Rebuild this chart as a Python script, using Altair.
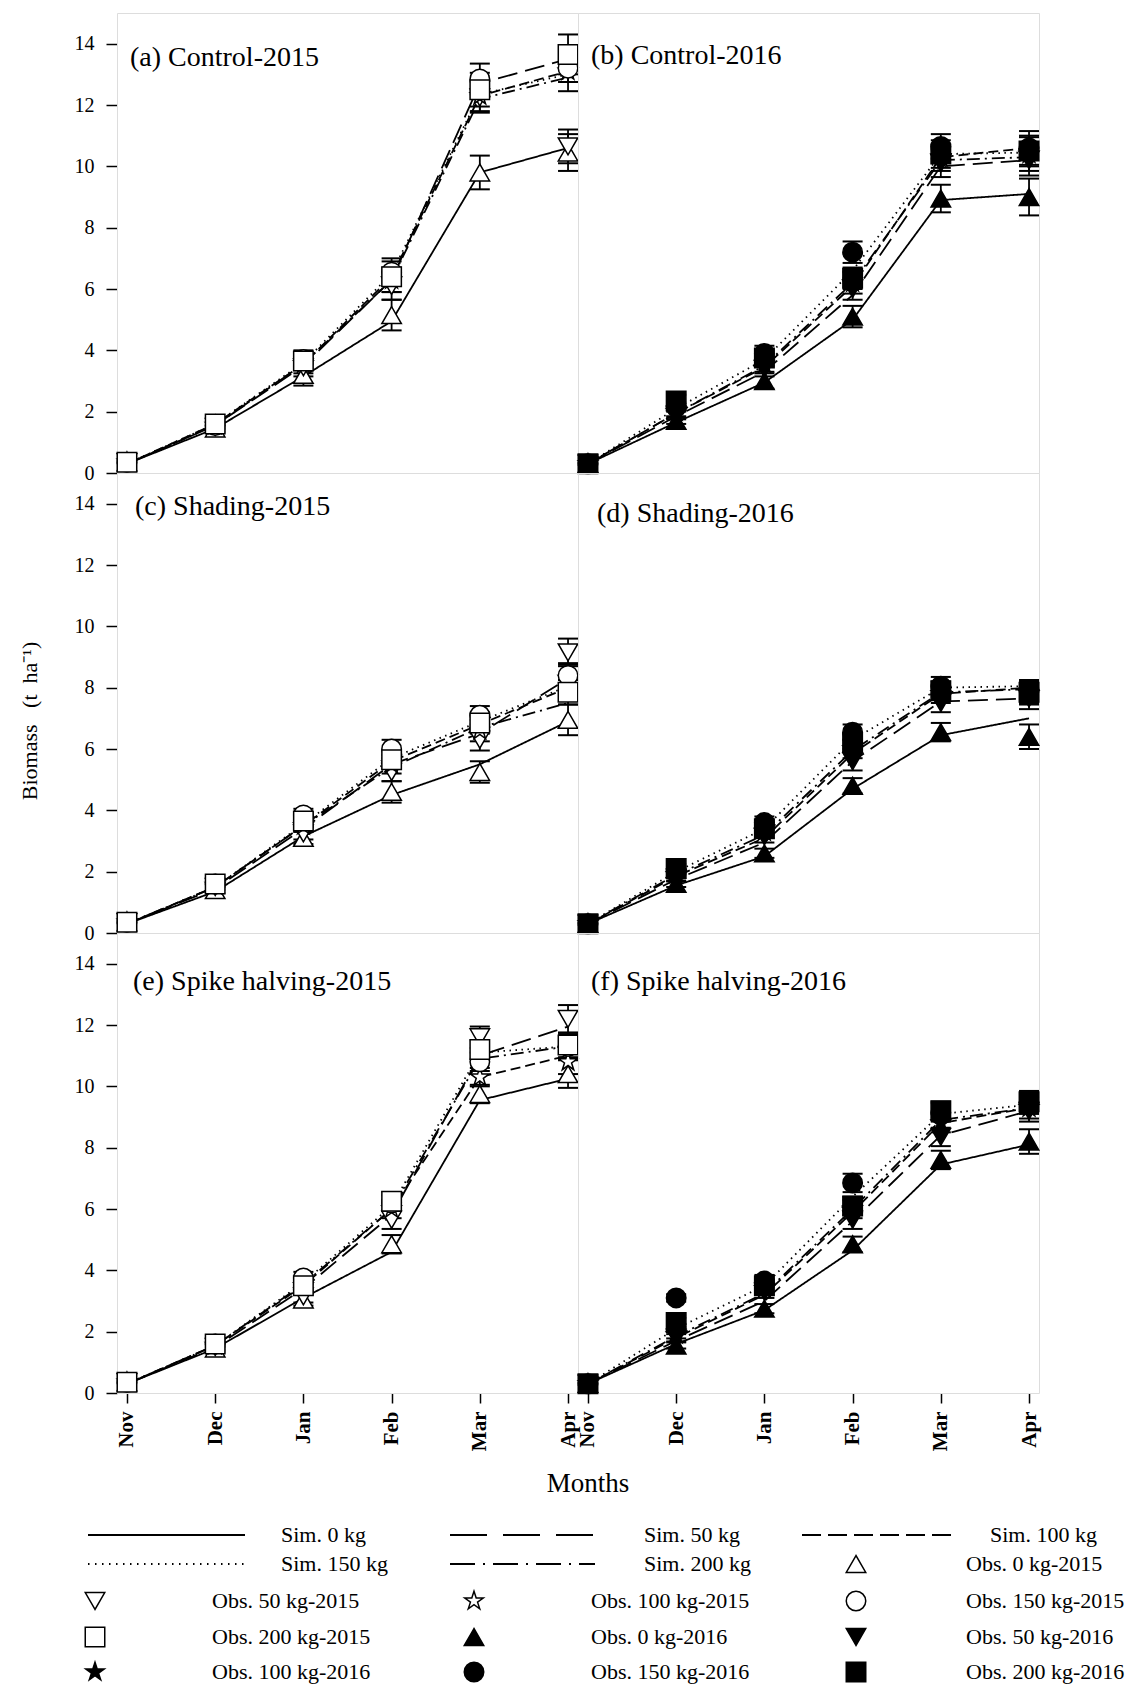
import altair as alt
import pandas as pd

MONTHS = ["Nov", "Dec", "Jan", "Feb", "Mar", "Apr"]
RATES = ["0", "50", "100", "150", "200"]
TREATMENTS = ["Control", "Shading", "Spike halving"]
YEARS = ["2015", "2016"]
TAGS = ["a", "b", "c", "d", "e", "f"]

# Simulated biomass (t ha-1); one list per N rate (0, 50, 100, 150, 200 kg), months Nov..Apr
SIM_A = [[0.30, 1.45, 3.15, 4.95, 9.80, 10.60],
         [0.30, 1.55, 3.50, 6.30, 12.70, 13.50],
         [0.30, 1.60, 3.55, 6.40, 12.30, 13.10],
         [0.30, 1.60, 3.60, 6.50, 12.35, 13.00],
         [0.30, 1.55, 3.55, 6.30, 12.20, 12.90]]
OBS_A = [[0.35, 1.45, 3.20, 5.15, 9.80, 10.45],
         [0.35, 1.50, 3.45, 6.10, 12.25, 10.65],
         [0.35, 1.55, 3.55, 6.30, 12.30, 13.10],
         [0.35, 1.55, 3.70, 6.55, 12.85, 13.20],
         [0.35, 1.60, 3.65, 6.40, 12.50, 13.65]]
ERR_A = [[0.05, 0.12, 0.35, 0.50, 0.55, 0.60],
         [0.05, 0.12, 0.30, 0.45, 0.50, 0.55],
         [0.05, 0.12, 0.30, 0.40, 0.50, 0.65],
         [0.05, 0.12, 0.30, 0.45, 0.50, 0.45],
         [0.05, 0.12, 0.30, 0.50, 0.55, 0.65]]

SIM_B = [[0.30, 1.65, 2.95, 5.00, 8.90, 9.10],
         [0.30, 1.85, 3.30, 5.80, 10.00, 10.20],
         [0.30, 1.95, 3.45, 6.10, 10.30, 10.60],
         [0.30, 2.10, 3.70, 6.60, 10.40, 10.45],
         [0.30, 1.95, 3.50, 6.20, 10.20, 10.30]]
OBS_B = [[0.30, 1.70, 3.00, 5.10, 8.95, 9.00],
         [0.30, 1.90, 3.40, 6.00, 10.10, 10.20],
         [0.30, 2.00, 3.55, 6.20, 10.30, 10.40],
         [0.30, 2.15, 3.90, 7.20, 10.65, 10.60],
         [0.30, 2.35, 3.75, 6.35, 10.40, 10.50]]
ERR_B = [[0.05, 0.10, 0.25, 0.35, 0.45, 0.60],
         [0.05, 0.15, 0.25, 0.35, 0.45, 0.50],
         [0.05, 0.15, 0.25, 0.35, 0.45, 0.55],
         [0.05, 0.15, 0.25, 0.35, 0.40, 0.55],
         [0.05, 0.20, 0.25, 0.35, 0.45, 0.50]]

SIM_C = [[0.30, 1.35, 3.15, 4.50, 5.50, 6.90],
         [0.30, 1.45, 3.40, 5.50, 6.50, 8.30],
         [0.30, 1.50, 3.50, 5.60, 6.80, 8.00],
         [0.30, 1.50, 3.55, 5.70, 6.90, 8.05],
         [0.30, 1.50, 3.50, 5.40, 6.70, 7.50]]
OBS_C = [[0.35, 1.40, 3.10, 4.60, 5.25, 6.95],
         [0.35, 1.50, 3.25, 5.25, 6.30, 9.15],
         [0.35, 1.55, 3.50, 5.50, 6.60, 8.30],
         [0.35, 1.60, 3.85, 6.00, 7.10, 8.40],
         [0.35, 1.60, 3.65, 5.65, 6.85, 7.85]]
ERR_C = [[0.05, 0.10, 0.20, 0.35, 0.35, 0.50],
         [0.05, 0.10, 0.20, 0.30, 0.35, 0.45],
         [0.05, 0.10, 0.20, 0.30, 0.35, 0.45],
         [0.05, 0.10, 0.20, 0.30, 0.30, 0.40],
         [0.05, 0.10, 0.20, 0.30, 0.35, 0.40]]

SIM_D = [[0.30, 1.55, 2.50, 4.70, 6.45, 7.00],
         [0.30, 1.75, 2.95, 5.60, 7.55, 7.65],
         [0.30, 1.85, 3.10, 5.85, 7.80, 8.00],
         [0.30, 2.00, 3.40, 6.30, 8.00, 8.05],
         [0.30, 1.90, 3.20, 5.95, 7.85, 7.95]]
OBS_D = [[0.30, 1.60, 2.60, 4.80, 6.55, 6.40],
         [0.30, 1.80, 3.15, 5.60, 7.50, 7.65],
         [0.30, 1.90, 3.30, 6.00, 7.80, 7.80],
         [0.30, 2.00, 3.60, 6.55, 8.05, 7.90],
         [0.30, 2.10, 3.40, 6.20, 7.90, 7.85]]
ERR_D = [[0.05, 0.10, 0.15, 0.25, 0.30, 0.40],
         [0.05, 0.12, 0.20, 0.30, 0.30, 0.35],
         [0.05, 0.12, 0.20, 0.30, 0.30, 0.35],
         [0.05, 0.12, 0.20, 0.25, 0.30, 0.35],
         [0.05, 0.15, 0.20, 0.30, 0.30, 0.35]]

SIM_E = [[0.30, 1.45, 3.10, 4.60, 9.55, 10.25],
         [0.30, 1.50, 3.40, 5.80, 11.00, 11.95],
         [0.30, 1.55, 3.50, 6.00, 10.30, 11.00],
         [0.30, 1.55, 3.60, 6.10, 11.10, 11.30],
         [0.30, 1.55, 3.55, 6.00, 10.90, 11.30]]
OBS_E = [[0.35, 1.45, 3.05, 4.85, 9.75, 10.40],
         [0.35, 1.50, 3.15, 5.65, 11.60, 12.20],
         [0.35, 1.55, 3.50, 6.00, 10.30, 10.80],
         [0.35, 1.60, 3.75, 6.20, 10.80, 11.30],
         [0.35, 1.60, 3.50, 6.25, 11.20, 11.35]]
ERR_E = [[0.05, 0.10, 0.20, 0.30, 0.30, 0.45],
         [0.05, 0.10, 0.20, 0.30, 0.35, 0.45],
         [0.05, 0.10, 0.20, 0.30, 0.30, 0.40],
         [0.05, 0.10, 0.20, 0.25, 0.30, 0.40],
         [0.05, 0.10, 0.20, 0.30, 0.30, 0.40]]

SIM_F = [[0.30, 1.60, 2.70, 4.65, 7.45, 8.10],
         [0.30, 1.70, 3.00, 5.60, 8.40, 9.20],
         [0.30, 1.80, 3.20, 5.90, 8.80, 9.30],
         [0.30, 2.10, 3.50, 6.40, 9.10, 9.40],
         [0.30, 1.85, 3.25, 6.00, 8.90, 9.30]]
OBS_F = [[0.30, 1.55, 2.75, 4.85, 7.60, 8.20],
         [0.30, 1.80, 3.30, 5.65, 8.35, 9.20],
         [0.30, 1.90, 3.40, 6.00, 8.80, 9.30],
         [0.30, 3.10, 3.65, 6.85, 9.15, 9.45],
         [0.30, 2.30, 3.50, 6.10, 9.20, 9.50]]
ERR_F = [[0.05, 0.10, 0.15, 0.25, 0.30, 0.40],
         [0.05, 0.12, 0.20, 0.30, 0.30, 0.35],
         [0.05, 0.12, 0.20, 0.30, 0.30, 0.35],
         [0.05, 0.12, 0.20, 0.30, 0.30, 0.35],
         [0.05, 0.15, 0.20, 0.30, 0.30, 0.35]]

PANEL_DATA = [(SIM_A, OBS_A, ERR_A), (SIM_B, OBS_B, ERR_B),
              (SIM_C, OBS_C, ERR_C), (SIM_D, OBS_D, ERR_D),
              (SIM_E, OBS_E, ERR_E), (SIM_F, OBS_F, ERR_F)]

# ---------------- styling / layout ----------------
FONT = "Liberation Serif"
DASH_PANEL = [[1, 0], [20, 8], [10, 5], [1.5, 4.5], [13, 5, 2, 5]]
DASH_LEGEND = [[1, 0], [37, 16], [19, 7], [1.5, 5.5], [25, 8, 2, 8]]
STAR = ("M0,-1L0.2245,-0.309L0.951,-0.309L0.363,0.118L0.588,0.809L0,0.382"
        "L-0.588,0.809L-0.363,0.118L-0.951,-0.309L-0.2245,-0.309Z")
SHAPES = ["triangle-up", "triangle-down", STAR, "circle", "square"]
SYMS = [f"{r}-{y}" for y in YEARS for r in RATES]
SYM_SHAPES = SHAPES * len(YEARS)
FILLS = ["white", "black"]
LABEL_POS = {"a": (13, 53), "b": (13, 51), "c": (18, 42),
             "d": (19, 49), "e": (16, 57), "f": (13, 57)}
PW, PH = 461, 460
BLANK = "\u2800"

# ---------------- data table ----------------
records = []
k = 0
for t in TREATMENTS:
    for yr in YEARS:
        sim, obs, err = PANEL_DATA[k]
        tag = TAGS[k]
        for ri, r in enumerate(RATES):
            for mi in range(len(MONTHS)):
                records.append(dict(treat=t, year=yr, tag=tag, kind="sim", rate=r,
                                    sym=f"{r}-{yr}", m=mi, v=sim[ri][mi],
                                    lo=None, hi=None, label=""))
            for mi in range(len(MONTHS)):
                o, e = obs[ri][mi], err[ri][mi]
                records.append(dict(treat=t, year=yr, tag=tag, kind="obs", rate=r,
                                    sym=f"{r}-{yr}", m=mi, v=o, lo=o - e, hi=o + e,
                                    label=""))
        records.append(dict(treat=t, year=yr, tag=tag, kind="label", rate="",
                            sym="", m=None, v=None, lo=None, hi=None,
                            label=f"({tag}) {t}-{yr}"))
        k += 1
df = pd.DataFrame(records)

xs = alt.Scale(domain=[-0.113, 5.113], nice=False, zero=False)
ys = alt.Scale(domain=[0, 15], nice=False, zero=False)
label_expr = "[" + ",".join(f"'{m}'" for m in MONTHS) + "][datum.value]"

x_axis = alt.Axis(values=list(range(len(MONTHS))), labelExpr=label_expr,
                  labelAngle=270, labelFont=FONT, labelFontSize=21,
                  labelFontWeight="bold", labelColor="black", labelPadding=8,
                  tickSize=10, tickWidth=1.5, tickColor="black",
                  domain=False, grid=False, title=None)
y_axis = alt.Axis(values=list(range(0, 15, 2)), labelFont=FONT, labelFontSize=20,
                  labelColor="black", labelPadding=12, tickSize=11,
                  tickWidth=1.5, tickColor="black", domain=False, grid=False,
                  title=None)

X = alt.X("m:Q", scale=xs, axis=x_axis, title=None)
Y = alt.Y("v:Q", scale=ys, axis=y_axis, title=None)

lines = alt.Chart().transform_filter("datum.kind == 'sim'").mark_line(
    color="black", strokeWidth=1.8).encode(
    x=X, y=Y,
    strokeDash=alt.StrokeDash("rate:N", scale=alt.Scale(domain=RATES, range=DASH_PANEL),
                              legend=None),
    detail="rate:N")

err_rule = alt.Chart().transform_filter("datum.kind == 'obs'").mark_rule(
    color="black", strokeWidth=1.8).encode(
    x=alt.X("m:Q", scale=xs, title=None),
    y=alt.Y("lo:Q", scale=ys, title=None), y2="hi:Q")

cap_lo = alt.Chart().transform_filter("datum.kind == 'obs'").mark_tick(
    color="black", orient="horizontal", size=20, thickness=2, opacity=1).encode(
    x=alt.X("m:Q", scale=xs, title=None), y=alt.Y("lo:Q", scale=ys, title=None))
cap_hi = alt.Chart().transform_filter("datum.kind == 'obs'").mark_tick(
    color="black", orient="horizontal", size=20, thickness=2, opacity=1).encode(
    x=alt.X("m:Q", scale=xs, title=None), y=alt.Y("hi:Q", scale=ys, title=None))

shape_enc = alt.Shape("sym:N", scale=alt.Scale(domain=SYMS, range=SYM_SHAPES), legend=None)
fill_enc = alt.Fill("year:N", scale=alt.Scale(domain=YEARS, range=FILLS), legend=None)

pts = alt.Chart().transform_filter("datum.kind == 'obs'").mark_point(
    filled=True, size=380, stroke="black", strokeWidth=1.5, opacity=1).encode(
    x=alt.X("m:Q", scale=xs, title=None), y=alt.Y("v:Q", scale=ys, title=None),
    shape=shape_enc, fill=fill_enc)

label_layers = []
for tag in TAGS:
    lx, ly = LABEL_POS[tag]
    label_layers.append(
        alt.Chart().transform_filter(f"datum.kind == 'label' && datum.tag == '{tag}'")
        .mark_text(align="left", baseline="alphabetic", font=FONT, fontSize=28,
                   color="black")
        .encode(x=alt.value(lx), y=alt.value(ly), text="label:N"))

panel = alt.layer(lines, err_rule, cap_lo, cap_hi, pts, *label_layers).properties(
    width=PW, height=PH)

hdr_common = dict(labels=False, titleFont=FONT, titleFontWeight="normal",
                  titleColor="black")
grid = panel.facet(
    data=df,
    row=alt.Row("treat:N", sort=TREATMENTS,
                title="Biomass\u00a0\u00a0\u00a0(t\u00a0\u00a0ha\u207b\u00b9)" + BLANK * 2,
                header=alt.Header(titleOrient="left", titlePadding=22,
                                  titleFontSize=22, **hdr_common)),
    column=alt.Column("year:N", sort=YEARS,
                      title=BLANK + "Months",
                      header=alt.Header(titleOrient="bottom", titlePadding=10,
                                        titleFontSize=27, **hdr_common)),
    spacing=0,
    bounds="flush",
)

# ---------------- legend (drawn as a small chart) ----------------
PLOT_LEFT = 117      # page x of the panels' left edge (legend origin)
LEG_TOP = 1500       # page y of the legend's top
ROW_Y = [1535, 1564, 1601, 1637, 1672]
SIM_LINE_X = [(88, 245), (450, 595), (802, 952)]
SIM_TEXT_X = [281, 644, 990]
OBS_SYM_X = [95, 474, 856]
OBS_TEXT_X = [212, 591, 966]
LW, LH = 1004, 184

entries = [("sim", r, "", "") for r in RATES] + \
          [("obs", r, yr, f"{r}-{yr}") for yr in YEARS for r in RATES]
leg = []
for i, (kind, r, yr, sym) in enumerate(entries):
    row, col = divmod(i, 3)
    if kind == "sim":
        text = f"Sim. {r} kg"
        x1, x2 = SIM_LINE_X[col]
        xt = SIM_TEXT_X[col]
        xsym = None
    else:
        text = f"Obs. {r} kg-{yr}"
        x1 = x2 = None
        xsym = OBS_SYM_X[col]
        xt = OBS_TEXT_X[col]
    leg.append(dict(kind=kind, rate=r, year=yr, sym=sym, text=text,
                    x1=None if x1 is None else x1 - PLOT_LEFT,
                    x2=None if x2 is None else x2 - PLOT_LEFT,
                    xs=None if xsym is None else xsym - PLOT_LEFT,
                    xt=xt - PLOT_LEFT, yy=ROW_Y[row] - LEG_TOP))
leg_df = pd.DataFrame(leg)

lx_scale = alt.Scale(domain=[0, LW], nice=False, zero=False)
ly_scale = alt.Scale(domain=[LH, 0], nice=False, zero=False)

leg_lines = alt.Chart().transform_filter("datum.kind == 'sim'").mark_rule(
    color="black", strokeWidth=2).encode(
    x=alt.X("x1:Q", scale=lx_scale, axis=None), x2="x2:Q",
    y=alt.Y("yy:Q", scale=ly_scale, axis=None),
    strokeDash=alt.StrokeDash("rate:N", scale=alt.Scale(domain=RATES, range=DASH_LEGEND),
                              legend=None))
leg_pts = alt.Chart().transform_filter("datum.kind == 'obs'").mark_point(
    filled=True, size=380, stroke="black", strokeWidth=1.5, opacity=1).encode(
    x=alt.X("xs:Q", scale=lx_scale, axis=None),
    y=alt.Y("yy:Q", scale=ly_scale, axis=None),
    shape=shape_enc, fill=fill_enc)
leg_text = alt.Chart().mark_text(align="left", baseline="middle", font=FONT,
                                 fontSize=22, color="black").encode(
    x=alt.X("xt:Q", scale=lx_scale, axis=None),
    y=alt.Y("yy:Q", scale=ly_scale, axis=None),
    text="text:N")

legend = alt.layer(leg_lines, leg_pts, leg_text, data=leg_df).properties(
    width=LW, height=LH, view=alt.ViewBackground(stroke="transparent"))

chart = alt.vconcat(grid, legend, spacing=2).resolve_scale(
    strokeDash="independent").properties(
    padding={"left": 10, "top": 4, "right": 0, "bottom": 0}
).configure_view(stroke="black", strokeWidth=1.5).configure(background="white")

chart.save("out.html", embed_options={"renderer": "svg", "actions": False})
